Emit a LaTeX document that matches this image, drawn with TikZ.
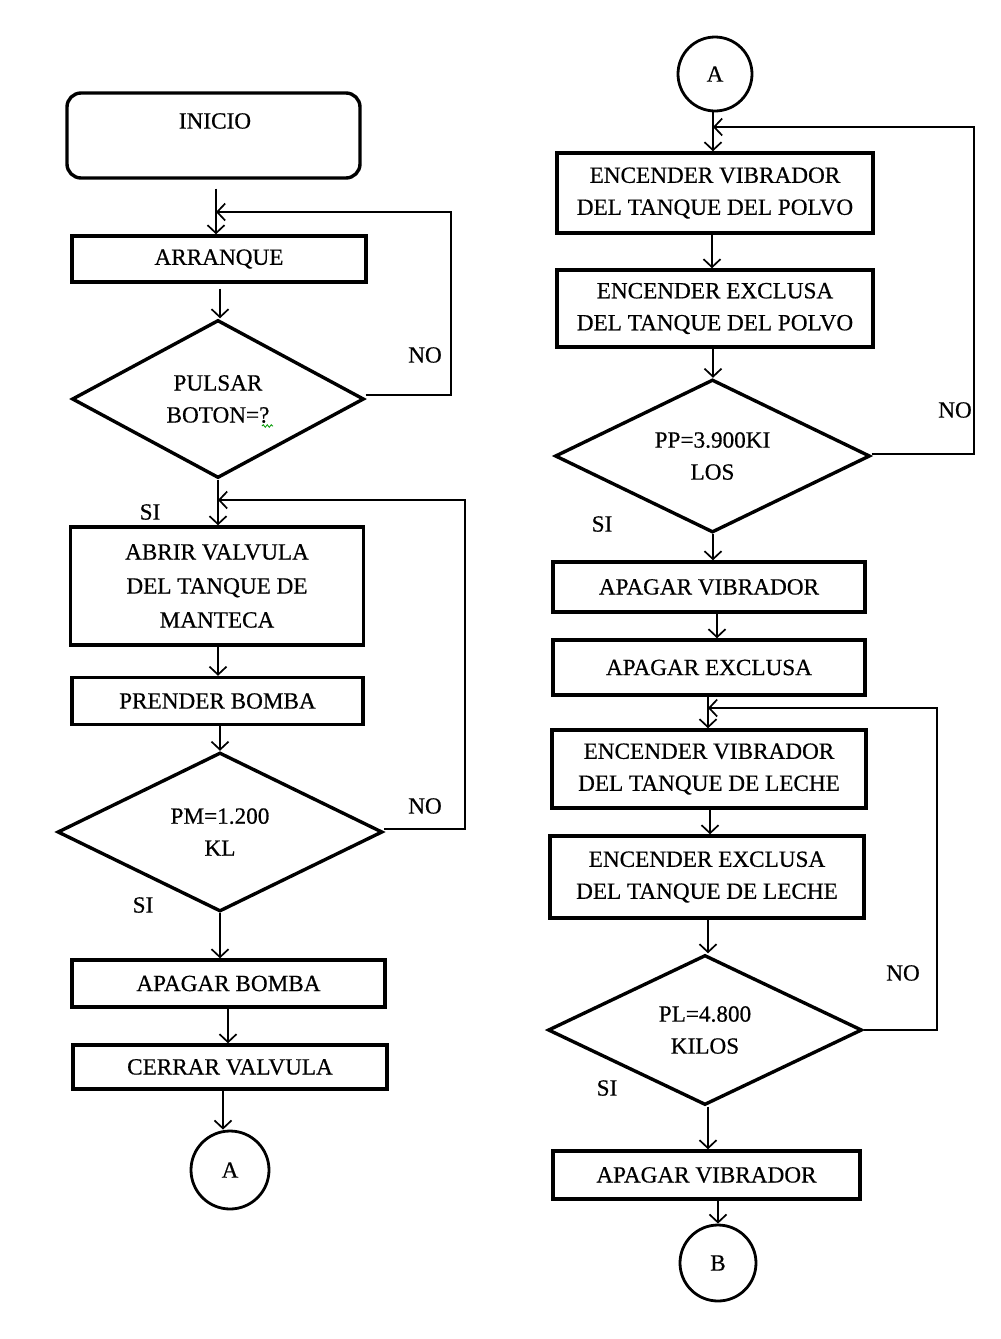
\documentclass[tikz,border=0pt]{standalone}
\usepackage{fontspec}
\setmainfont[FakeBold=0.5]{Liberation Serif}
\usetikzlibrary{arrows.meta,shapes.geometric,decorations.pathmorphing}

\begin{document}
\begin{tikzpicture}[x=1pt,y=-1pt,
  every node/.style={font=\fontsize{23.2}{32}\selectfont, inner sep=0pt, align=center},
  procbox/.style={draw, line width=3.4pt, rectangle},
  startbox/.style={draw, line width=3.4pt, rectangle, rounded corners=14pt},
  decision/.style={draw, line width=3.4pt, diamond, aspect=2},
  connector/.style={draw, line width=2.8pt, circle, minimum size=#1},
  arr/.style={line width=1.7pt, -{Straight Barb[length=8pt,width=17pt,line width=1.7pt]}},
  tag/.style={font=\fontsize{23.2}{26}\selectfont}
]
\useasboundingbox (0,0) rectangle (1001,1339);

% ---------------- left column ----------------
\node[startbox, minimum width=293pt, minimum height=85pt] (inicio) at (213.5,135.5) {};
\node (inicio-t) at (215,121) {INICIO};
\node[procbox, minimum width=294pt, minimum height=46pt] (arranque) at (219,259) {ARRANQUE};
\node[decision, minimum width=292pt, minimum height=158pt] (d1) at (218,399) {PULSAR\\BOTON=?};
\node[procbox, minimum width=293pt, minimum height=118pt,
      font=\fontsize{23.2}{34}\selectfont] (abrir) at (217,586) {ABRIR VALVULA\\DEL TANQUE DE\\MANTECA};
\node[procbox, minimum width=291pt, minimum height=47pt] (prender) at (217.5,701) {PRENDER BOMBA};
\node[decision, minimum width=325pt, minimum height=159pt] (d2) at (220,832) {PM=1.200\\KL};
\node[procbox, minimum width=313pt, minimum height=47pt] (apbomba) at (228.5,983.5) {APAGAR BOMBA};
\node[procbox, minimum width=314pt, minimum height=44pt] (cerrar) at (230,1067) {CERRAR VALVULA};
\node[connector=78pt] (outA) at (230,1170) {A};

% spell-check mark under the question mark
\draw[green!60!black, line width=0.8pt, decorate,
      decoration={snake, amplitude=1.3pt, segment length=4pt}] (262,426) -- (273,426);

\coordinate (j1) at (216,212);
\coordinate (j2) at (218,500);

\draw[arr] (inicio.south -| j1) ++(0,9) -- (arranque.north -| j1);
\draw[arr] (arranque.south -| 220,0) ++(0,5) -- (d1.north -| 220,0);
\draw[arr] (d1.south) -- (abrir.north -| d1.south);
\draw[arr] (abrir.south -| 218,0) -- (prender.north -| 218,0);
\draw[arr] (prender.south -| 220,0) -- (d2.north -| 220,0);
\draw[arr] (d2.south) -- (apbomba.north -| d2.south);
\draw[arr] (apbomba.south -| 228,0) -- (cerrar.north -| 228,0);
\draw[arr] (cerrar.south -| 223,0) -- (outA.north -| 223,0);

\draw[arr] (d1.east) ++(0,-4) -- (451,395) |- (j1);
\draw[arr] (d2.east) ++(0,-3) -- (465,829) |- (j2);

\node[tag] (no1) at (425,355) {NO};
\node[tag] (si1) at (150,512) {SI};
\node[tag] (no2) at (425,806) {NO};
\node[tag] (si2) at (143,905) {SI};

% ---------------- right column ----------------
\node[connector=74pt] (inA) at (715,74) {A};
\node[procbox, minimum width=316pt, minimum height=80pt] (e1) at (715,193) {ENCENDER VIBRADOR\\DEL TANQUE DEL POLVO};
\node[procbox, minimum width=316pt, minimum height=77pt] (e2) at (715,308.5) {ENCENDER EXCLUSA\\DEL TANQUE DEL POLVO};
\node[decision, minimum width=315pt, minimum height=153pt] (d3) at (712.5,456) {PP=3.900KI\\LOS};
\node[procbox, minimum width=312pt, minimum height=50pt] (av1) at (709,587) {APAGAR VIBRADOR};
\node[procbox, minimum width=312pt, minimum height=55pt] (ae) at (709,667.5) {APAGAR EXCLUSA};
\node[procbox, minimum width=314pt, minimum height=78pt] (e3) at (709,769) {ENCENDER VIBRADOR\\DEL TANQUE DE LECHE};
\node[procbox, minimum width=314pt, minimum height=82pt] (e4) at (707,877) {ENCENDER EXCLUSA\\DEL TANQUE DE LECHE};
\node[decision, minimum width=314pt, minimum height=150pt] (d4) at (705,1030) {PL=4.800\\KILOS};
\node[procbox, minimum width=307pt, minimum height=48pt] (av2) at (706.5,1175) {APAGAR VIBRADOR};
\node[connector=76pt] (outB) at (718,1263) {B};

\coordinate (j3) at (713,127);
\coordinate (j4) at (708,708);

\draw[arr] (inA.south -| j3) -- (e1.north -| j3);
\draw[arr] (e1.south -| 712,0) -- (e2.north -| 712,0);
\draw[arr] (e2.south -| 713,0) -- (d3.north -| 713,0);
\draw[arr] (d3.south -| 713,0) -- (av1.north -| 713,0);
\draw[arr] (av1.south -| 717,0) -- (ae.north -| 717,0);
\draw[arr] (ae.south -| j4) -- (e3.north -| j4);
\draw[arr] (e3.south -| 710,0) -- (e4.north -| 710,0);
\draw[arr] (e4.south -| 708,0) -- (d4.north -| 708,0);
\draw[arr] (d4.south -| 708,0) -- (av2.north -| 708,0);
\draw[arr] (av2.south -| 718,0) -- (outB.north -| 718,0);

\draw[arr] (d3.east) ++(0,-2) -- (974,454) |- (j3);
\draw[arr] (d4.east) -- (937,1030) |- (j4);

\node[tag] (no3) at (955,410) {NO};
\node[tag] (si3) at (602,524) {SI};
\node[tag] (no4) at (903,973) {NO};
\node[tag] (si4) at (607,1088) {SI};
\end{tikzpicture}
\end{document}
